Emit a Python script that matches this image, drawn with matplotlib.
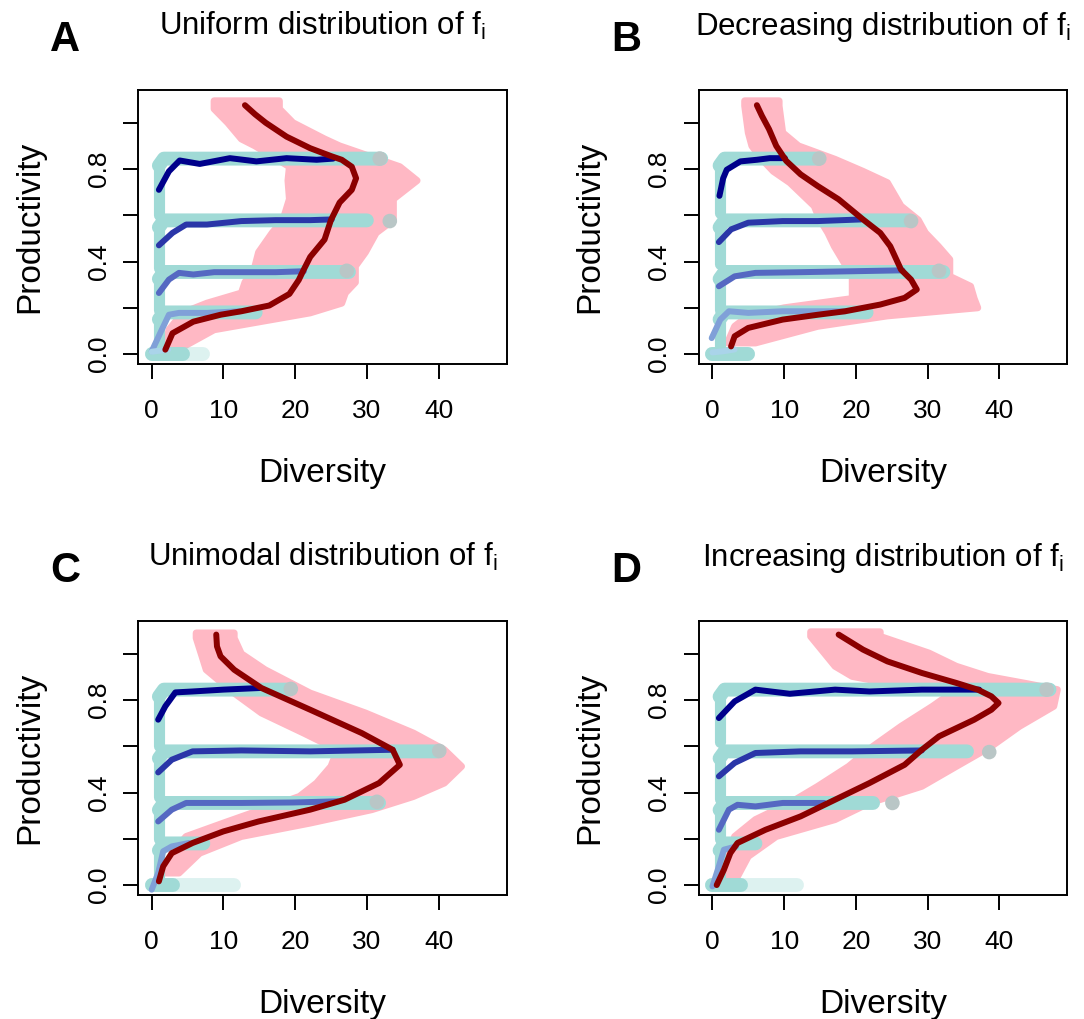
import numpy as np
import matplotlib.pyplot as plt

plt.rcParams['font.family'] = ['Liberation Sans', 'DejaVu Sans']
plt.rcParams['mathtext.fontset'] = 'custom'
plt.rcParams['mathtext.rm'] = 'Liberation Sans'
plt.rcParams['mathtext.it'] = 'Liberation Sans:italic'

bukvy = ['A', 'B', 'C', 'D']
nazvaniya = ['Uniform', 'Decreasing', 'Unimodal', 'Increasing']

# urovni polos (produktivnost monokultur)
urovni = [0.845, 0.578, 0.355, 0.18, 0.0]

# ---------- panel A ----------
red_A_x = [1.9, 2.9, 5.8, 9.6, 12.5, 16.4, 19.2, 20.5, 21.2, 22.1, 24.1, 25.0, 26.2, 27.9, 28.5, 27.9, 26.5, 25.0, 22.1, 18.8, 15.9, 14.4, 13.0]
red_A_y = [0.019, 0.09, 0.14, 0.17, 0.185, 0.21, 0.26, 0.32, 0.365, 0.42, 0.495, 0.58, 0.655, 0.71, 0.76, 0.81, 0.84, 0.856, 0.89, 0.94, 1.0, 1.037, 1.076]
blue_A_x = [[1.0, 2.4, 3.9, 6.7, 10.9, 14.6, 18.8, 23.0, 25.3],
            [1.0, 2.9, 4.8, 7.7, 12.5, 17.3, 22.1, 25.1],
            [1.0, 2.4, 3.8, 5.8, 8.7, 12.5, 17.3, 21.2],
            [0.0, 1.4, 2.4, 3.8, 7.7, 12.3],
            [0.0, 1.2, 2.3]]
blue_A_y = [[0.71, 0.79, 0.837, 0.822, 0.847, 0.833, 0.847, 0.84, 0.845],
            [0.47, 0.524, 0.56, 0.56, 0.575, 0.579, 0.579, 0.582],
            [0.264, 0.322, 0.351, 0.344, 0.354, 0.354, 0.354, 0.358],
            [0.012, 0.105, 0.17, 0.178, 0.178, 0.185],
            [0.01, 0.015, 0.02]]
pink_A_y = [0.03, 0.105, 0.178, 0.22, 0.264, 0.31, 0.38, 0.44, 0.524, 0.58, 0.67, 0.75, 0.81, 0.9, 0.93, 1.0, 1.06, 1.095]
pink_A_l = [1.9, 2.4, 4.3, 7.7, 12.5, 13.0, 14.4, 14.9, 16.8, 18.3, 19.2, 19.0, 19.2, 14.4, 12.5, 10.6, 8.7, 8.7]
pink_A_r = [4.3, 8.7, 22.1, 26.5, 27.0, 28.4, 28.4, 29.8, 31.3, 33.7, 33.7, 37.0, 34.6, 26.2, 24.1, 19.7, 17.8, 17.8]
band_A_end = [32.0, 30.0, 27.5, 14.5, 4.3]
band_A_faint = 7.2
stripe_A_low = [0.60, 0.37, 0.19, 0.0]
gray_A_x = [31.8, 33.2, 27.2]
gray_A_y = [0.845, 0.575, 0.36]

# ---------- panel B ----------
red_B_x = [2.6, 3.1, 5.0, 9.8, 14.7, 18.5, 23.4, 26.8, 28.5, 27.7, 26.3, 24.8, 23.4, 21.0, 17.6, 14.7, 12.3, 10.3, 8.9, 7.9, 6.9, 6.2]
red_B_y = [0.033, 0.077, 0.113, 0.149, 0.17, 0.185, 0.214, 0.243, 0.279, 0.322, 0.365, 0.466, 0.524, 0.582, 0.669, 0.726, 0.777, 0.835, 0.9, 0.972, 1.03, 1.076]
blue_B_x = [[0.98, 1.5, 2.0, 3.9, 6.2, 8.0, 10.1],
            [0.9, 2.6, 5.0, 9.8, 14.7, 20.7],
            [0.9, 3.1, 6.0, 12.3, 19.5, 26.5],
            [-0.1, 1.1, 2.3, 5.0, 9.8, 18.5],
            [0.0, 1.5, 3.1]]
blue_B_y = [[0.684, 0.76, 0.797, 0.833, 0.84, 0.847, 0.847],
            [0.484, 0.539, 0.568, 0.575, 0.575, 0.582],
            [0.293, 0.336, 0.351, 0.354, 0.358, 0.362],
            [0.069, 0.149, 0.185, 0.178, 0.185, 0.185],
            [0.007, 0.012, 0.02]]
pink_B_y = [0.048, 0.12, 0.165, 0.2, 0.24, 0.293, 0.336, 0.409, 0.466, 0.524, 0.58, 0.64, 0.741, 0.79, 0.842, 0.9, 0.957, 1.073, 1.095]
pink_B_l = [2.1, 3.1, 5.0, 10.0, 19.5, 19.5, 19.5, 18.1, 17.0, 16.1, 15.0, 14.2, 10.8, 8.5, 6.9, 5.5, 5.0, 4.5, 4.5]
pink_B_r = [6.0, 14.7, 24.4, 37.0, 36.5, 36.0, 33.1, 33.1, 31.5, 29.7, 28.7, 26.3, 24.4, 21.0, 17.1, 12.0, 9.8, 9.3, 9.3]
band_B_end = [14.7, 27.5, 32.2, 21.5, 5.0]
band_B_faint = 5.0
stripe_B_low = [0.61, 0.39, 0.19, 0.0]
gray_B_x = [14.9, 27.7, 31.6]
gray_B_y = [0.845, 0.575, 0.36]

# ---------- panel C ----------
red_C_x = [1.0, 1.6, 2.8, 5.7, 10.0, 14.9, 22.1, 26.9, 31.7, 34.6, 33.6, 29.3, 22.1, 15.3, 11.5, 9.6, 9.1, 9.0]
red_C_y = [0.016, 0.081, 0.138, 0.182, 0.232, 0.275, 0.326, 0.369, 0.441, 0.52, 0.585, 0.657, 0.758, 0.852, 0.931, 0.989, 1.032, 1.083]
blue_C_x = [[0.9, 1.9, 3.3, 5.7, 10.0, 15.1],
            [0.9, 2.8, 5.7, 12.5, 22.1, 33.6],
            [0.9, 2.8, 4.8, 12.5, 19.7, 25.9],
            [0.0, 0.9, 1.6, 2.8, 5.2]]
blue_C_y = [[0.715, 0.773, 0.833, 0.837, 0.845, 0.852],
            [0.487, 0.542, 0.578, 0.582, 0.578, 0.585],
            [0.275, 0.326, 0.355, 0.355, 0.357, 0.362],
            [-0.02, 0.052, 0.146, 0.167, 0.182]]
pink_C_y = [0.052, 0.138, 0.21, 0.268, 0.326, 0.383, 0.441, 0.513, 0.585, 0.657, 0.744, 0.83, 0.931, 1.0, 1.068, 1.09]
pink_C_l = [1.9, 2.8, 4.8, 10.0, 15.3, 20.6, 23.0, 25.0, 25.9, 21.2, 15.3, 11.5, 7.6, 6.9, 6.2, 6.2]
pink_C_r = [3.8, 6.7, 12.5, 22.1, 30.7, 36.5, 40.8, 43.2, 40.8, 36.5, 29.8, 22.1, 15.8, 12.5, 11.5, 11.5]
band_C_end = [19.0, 40.0, 31.7, 7.2, 3.0]
band_C_faint = 11.5
stripe_C_low = [0.60, 0.38, 0.20, 0.0]
gray_C_x = [19.4, 40.1, 31.4]
gray_C_y = [0.848, 0.58, 0.36]

# ---------- panel D ----------
red_D_x = [0.6, 1.6, 2.5, 3.5, 7.4, 12.3, 17.1, 21.9, 26.8, 29.2, 31.6, 36.5, 38.9, 39.9, 38.9, 37.0, 34.0, 29.2, 24.4, 21.0, 17.6]
red_D_y = [0.0, 0.066, 0.138, 0.182, 0.239, 0.297, 0.369, 0.441, 0.52, 0.585, 0.643, 0.715, 0.758, 0.787, 0.816, 0.845, 0.874, 0.917, 0.967, 1.018, 1.083]
blue_D_x = [[0.9, 3.1, 6.0, 10.8, 17.1, 21.9, 29.2, 37.2],
            [0.9, 3.1, 6.0, 12.3, 19.5, 29.2],
            [0.9, 2.3, 3.5, 6.0, 9.8, 15.6],
            [0.0, 0.9, 1.6, 3.3]]
blue_D_y = [[0.722, 0.794, 0.845, 0.827, 0.845, 0.837, 0.845, 0.845],
            [0.47, 0.528, 0.571, 0.578, 0.578, 0.582],
            [0.239, 0.326, 0.347, 0.34, 0.355, 0.355],
            [-0.006, 0.081, 0.153, 0.167]]
pink_D_y = [0.037, 0.124, 0.21, 0.283, 0.355, 0.427, 0.513, 0.6, 0.686, 0.773, 0.845, 0.87, 0.902, 0.946, 1.003, 1.075, 1.095]
pink_D_l = [1.6, 2.1, 3.1, 6.0, 10.8, 14.7, 19.0, 22.4, 26.3, 30.7, 34.0, 25.0, 19.5, 17.1, 15.6, 13.7, 13.7]
pink_D_r = [3.5, 5.0, 8.9, 17.1, 21.9, 29.2, 34.0, 38.9, 42.8, 47.6, 48.1, 44.0, 38.4, 34.0, 30.2, 23.4, 23.4]
band_D_end = [47.0, 35.5, 22.4, 6.0, 4.0]
band_D_faint = 11.8
stripe_D_low = [0.62, 0.37, 0.20, 0.0]
gray_D_x = [46.6, 38.6, 25.1]
gray_D_y = [0.845, 0.575, 0.355]

red_all = [(red_A_x, red_A_y), (red_B_x, red_B_y), (red_C_x, red_C_y), (red_D_x, red_D_y)]
blue_all = [(blue_A_x, blue_A_y), (blue_B_x, blue_B_y), (blue_C_x, blue_C_y), (blue_D_x, blue_D_y)]
pink_all = [(pink_A_y, pink_A_l, pink_A_r), (pink_B_y, pink_B_l, pink_B_r),
            (pink_C_y, pink_C_l, pink_C_r), (pink_D_y, pink_D_l, pink_D_r)]
band_all = [(band_A_end, band_A_faint, stripe_A_low), (band_B_end, band_B_faint, stripe_B_low),
            (band_C_end, band_C_faint, stripe_C_low), (band_D_end, band_D_faint, stripe_D_low)]
gray_all = [(gray_A_x, gray_A_y), (gray_B_x, gray_B_y), (gray_C_x, gray_C_y), (gray_D_x, gray_D_y)]

# cveta
rozovyi = '#FFB8C4'
goluboi = '#A0DAD6'
seryi = '#B9C6C6'
krasnyi = '#8B0000'
sinie = ['#00008B', '#2A36A8', '#5568C2', '#80A0D8', '#AAD4EA']

W, H = 1084, 1019
fig = plt.figure(figsize=(W / 100, H / 100), dpi=100)

# polozheniya osei v pikselyah: levo, niz
poz = [(138.3, 364), (699, 364), (138.3, 895), (699, 895)]
shir, vys = 368.4, 274.3

for i in range(4):
    lx, by = poz[i]
    ax = fig.add_axes([lx / W, 1 - by / H, shir / W, vys / H])

    # oblako rozovyh tochek (kak ogibayushchaya)
    py, pl, pr = pink_all[i]
    poly_x = list(pl) + list(pr)[::-1]
    poly_y = list(py) + list(py)[::-1]
    ax.fill(poly_x, poly_y, facecolor=rozovyi, edgecolor=rozovyi, lw=5, joinstyle='round', zorder=1)

    # golubye polosy
    ends, faint, low = band_all[i]
    for k in range(4):
        yb = urovni[k]
        ax.plot([1.0, 1.0], [low[k], yb - 0.03], color=goluboi, lw=8, solid_capstyle='round', zorder=2)
        ax.plot([1.0, 1.7, ends[k]], [yb - 0.03, yb, yb], color=goluboi, lw=10,
                solid_capstyle='round', solid_joinstyle='round', zorder=2)
    ax.plot([0.0, faint], [0.0, 0.0], color=goluboi, lw=10, alpha=0.35, solid_capstyle='round', zorder=2)
    ax.plot([0.0, ends[4]], [0.0, 0.0], color=goluboi, lw=10, solid_capstyle='round', zorder=2)

    gx, gy = gray_all[i]
    ax.scatter(gx, gy, s=110, color=seryi, edgecolors='none', zorder=3)

    # sinie linii
    bx, byy = blue_all[i]
    for k in range(len(bx)):
        ax.plot(bx[k], byy[k], color=sinie[k], lw=4.3, solid_capstyle='round', solid_joinstyle='round', zorder=4)

    # krasnaya liniya
    rx, ry = red_all[i]
    ax.plot(rx, ry, color=krasnyi, lw=4.3, solid_capstyle='round', solid_joinstyle='round', zorder=5)

    ax.set_xlim(-1.87, 49.5)
    ax.set_ylim(-0.043, 1.143)
    ax.set_xticks([0, 10, 20, 30, 40])
    ax.set_yticks([0.0, 0.2, 0.4, 0.6, 0.8, 1.0])
    ax.set_yticklabels(['0.0', '', '0.4', '', '0.8', ''])
    ax.tick_params(axis='both', length=11, width=1.4, labelsize=19)
    ax.tick_params(axis='x', pad=14)
    ax.tick_params(axis='y', pad=9)
    for lab in ax.get_yticklabels():
        lab.set_rotation(90)
        lab.set_va('center')
    for s in ax.spines.values():
        s.set_linewidth(1.4)

    ax.text(0.5, -0.4296, 'Diversity', transform=ax.transAxes, ha='center', va='baseline', fontsize=24)
    ax.text(-0.296, 0.5, 'Productivity', transform=ax.transAxes, ha='center', va='center',
            rotation=90, fontsize=24)
    ax.text(0.5, 1.2007, nazvaniya[i] + r' distribution of f$_\mathrm{i}$', transform=ax.transAxes,
            ha='center', va='baseline', fontsize=22.5)
    ax.text(-0.198, 1.14, bukvy[i], transform=ax.transAxes, ha='center', va='baseline',
            fontsize=30, fontweight='bold')

fig.savefig('out.png', dpi=100)
